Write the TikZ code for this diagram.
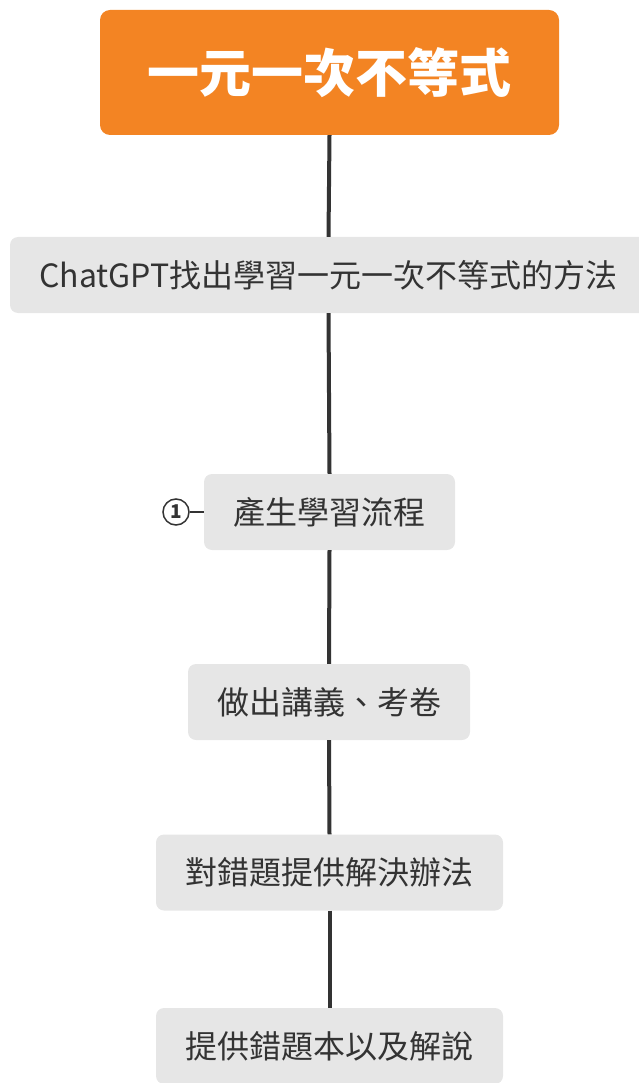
\documentclass[tikz,border=0pt]{standalone}
\usepackage{fontspec}
\newfontfamily\cjk{Noto Sans CJK TC}
\definecolor{orangebox}{HTML}{F38423}
\definecolor{graybox}{HTML}{E6E6E6}
\definecolor{darktext}{HTML}{333333}
\definecolor{linegray}{HTML}{333333}
\begin{document}
\begin{tikzpicture}[x=1pt,y=-1pt,
  titlebox/.style={fill=orangebox, rounded corners=10pt, text=white, inner sep=0pt,
    font=\cjk\bfseries\fontsize{52}{60}\selectfont},
  topicbox/.style={fill=graybox, rounded corners=8pt, text=darktext, inner sep=0pt,
    minimum height=76pt, font=\cjk\fontsize{32}{38}\selectfont},
  link/.style={draw=linegray, line width=4pt},
  marker/.style={circle, draw=darktext, line width=1.5pt, minimum size=26pt, inner sep=0pt,
    text=darktext, font=\cjk\bfseries\fontsize{19}{22}\selectfont}]
\useasboundingbox (0,0) rectangle (639,1083);
\node[titlebox, minimum width=459pt, minimum height=125pt] (top) at (329.5,72.5) {一元一次不等式};
\node[topicbox, minimum width=637pt] (b2) at (328.5,275) {ChatGPT找出學習一元一次不等式的方法};
\node[topicbox, minimum width=251pt] (b3) at (329.5,512) {產生學習流程};
\node[topicbox, minimum width=282pt] (b4) at (329,702) {做出講義、考卷};
\node[topicbox, minimum width=347pt] (b5) at (329.5,872.5) {對錯題提供解決辦法};
\node[topicbox, minimum width=347pt] (b6) at (329.5,1046) {提供錯題本以及解說};
\node[marker] (m1) at (176,512) {1};
\draw[link] (top.south) -- (b2.north);
\draw[link] (b2.south) -- (b3.north);
\draw[link] (b3.south) -- (b4.north);
\draw[link] (b4.south) -- (b5.north);
\draw[link] (b5.south) -- (b6.north);
\draw[draw=darktext, line width=1.5pt] (m1.east) -- (b3.west);
\end{tikzpicture}
\end{document}
